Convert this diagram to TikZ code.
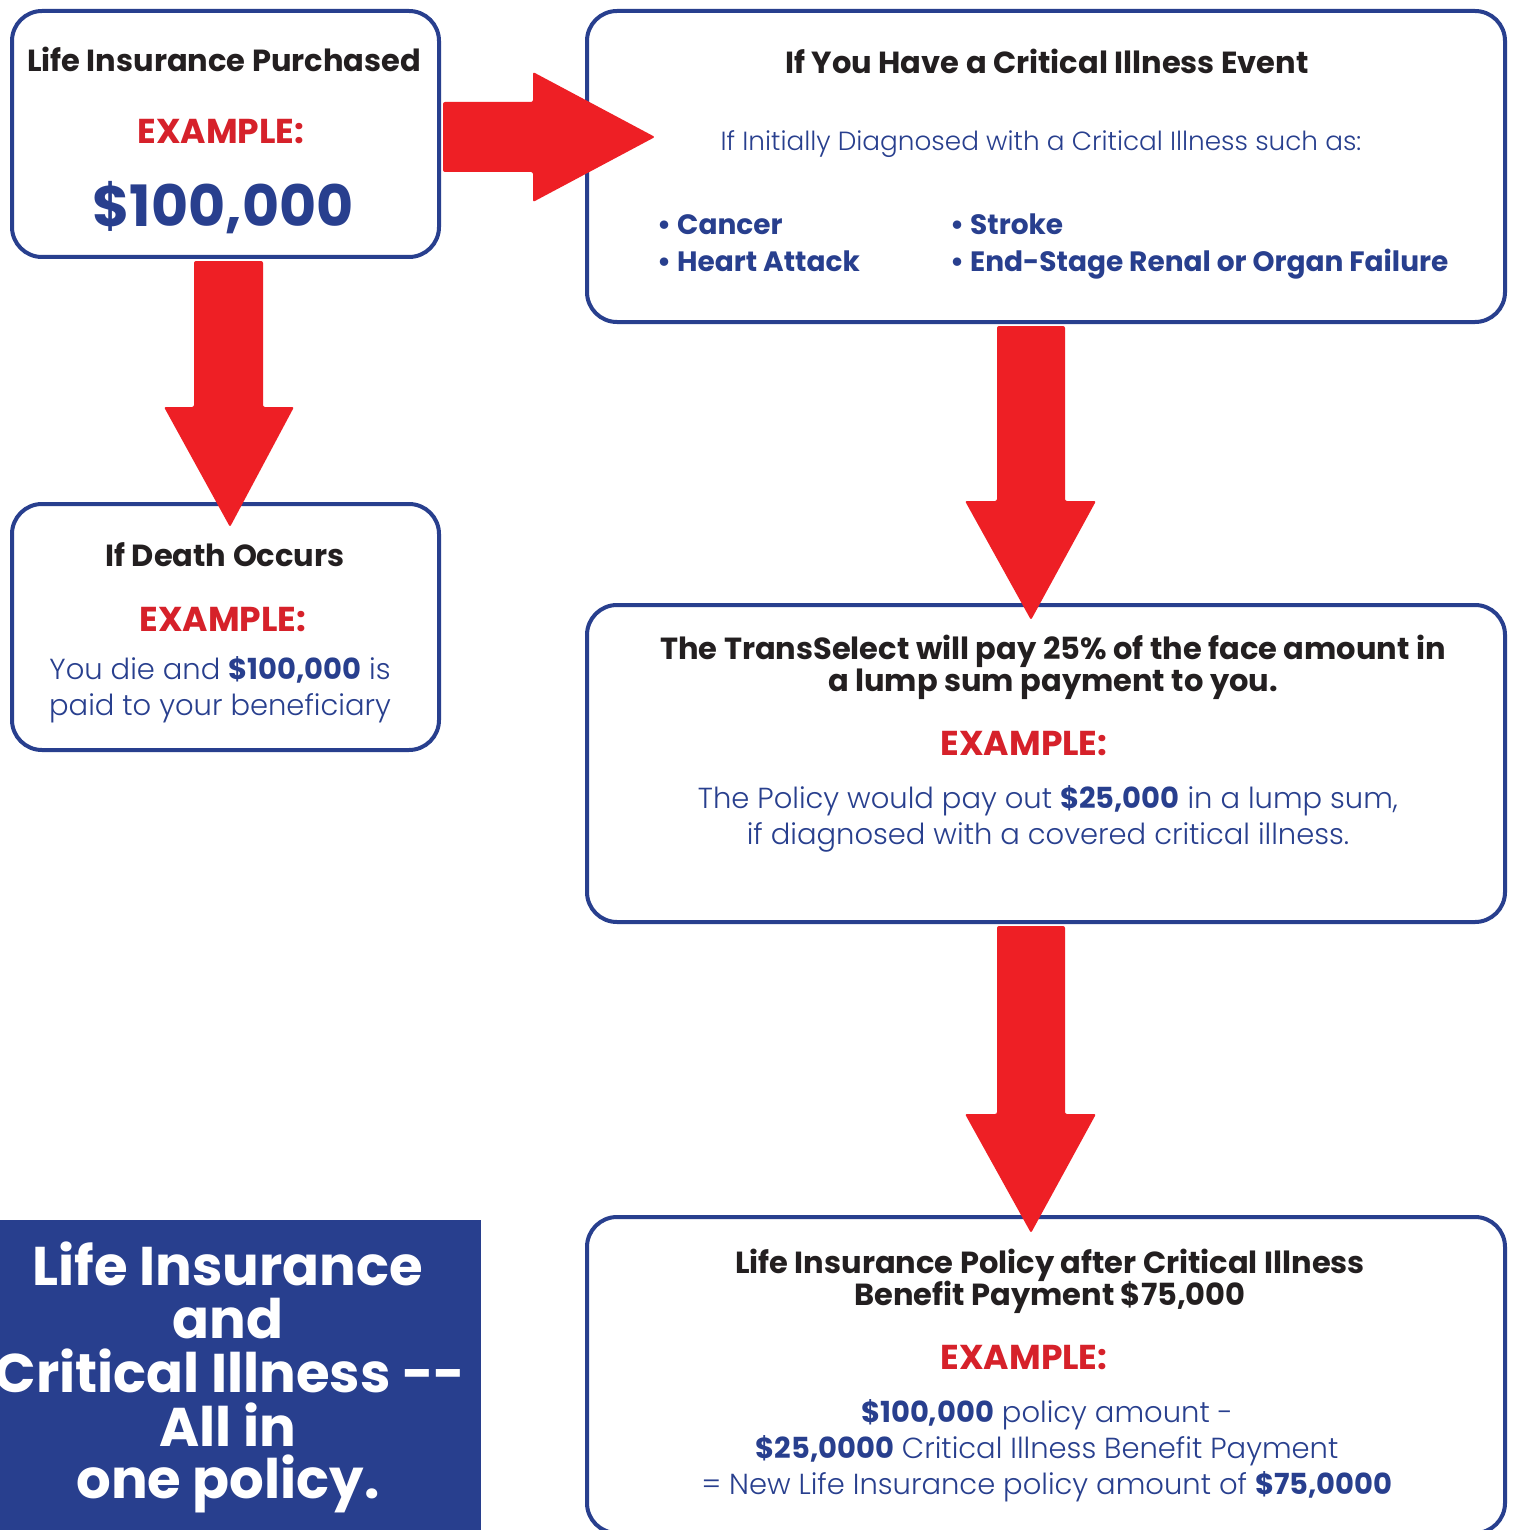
\documentclass[tikz,border=0pt]{standalone}
\usepackage{fontspec}
\setmainfont{Poppins}
\IfFontExistsTF{Poppins Light}{\newfontfamily\lightf{Poppins Light}[BoldFont={Poppins Bold}]}{\newfontfamily\lightf{Poppins}}
\usetikzlibrary{calc}
\definecolor{cblue}{HTML}{283F8E}
\definecolor{cred}{HTML}{EE1F25}
\definecolor{tred}{HTML}{D6212A}
\definecolor{tblack}{HTML}{231F20}
\begin{document}
\begin{tikzpicture}[x=1pt,y=-1pt,
  box/.style={draw=cblue,line width=4pt,rounded corners=30pt,fill=white,inner sep=0pt,anchor=north west},
  lbl/.style={anchor=base,inner sep=0pt},
  head/.style={lbl,text=tblack,font=\bfseries\fontsize{30.5}{34}\selectfont},
  ex/.style={lbl,text=tred,font=\bfseries\fontsize{34.5}{38}\selectfont},
  body/.style={lbl,text=cblue,font=\lightf\fontsize{29}{33}\selectfont},
  bul/.style={anchor=base west,inner sep=0pt,text=cblue,font=\bfseries\fontsize{28}{32}\selectfont},
  fat/.style={fill=cred,rounded corners=2pt},
  bantxt/.style={lbl,text=white,font=\bfseries\fontsize{54.5}{54}\selectfont}]
\useasboundingbox (0,0) rectangle (1514,1530);
\fill[white] (0,0) rectangle (1514,1530);

% boxes
\node[box,minimum width=427pt,minimum height=246pt] (A) at (10,9) {};
\node[box,minimum width=918pt,minimum height=311pt] (B) at (585,9) {};
\node[box,minimum width=427pt,minimum height=246pt] (C) at (10,502) {};
\node[box,minimum width=918pt,minimum height=317pt] (D) at (585,603) {};
\node[box,minimum width=918pt,minimum height=316pt] (E) at (585,1215) {};
\node[fill=cblue,inner sep=0pt,anchor=north west,minimum width=481pt,minimum height=312pt] (F) at (0,1220) {};

% arrows
\fill[fat] ($(A.east)+(2,-32)$) -- ++(90,0) -- ++(0,-30) -- ($(B.west)+(70,-29.5)$) -- ($(A.east)+(92,68)$) -- ++(0,-30) -- ++(-90,0) -- cycle;
\fill[fat] ($(A.south)+(-31.5,2)$) -- ++(0,146) -- ++(-30,0) -- ($(C.north)+(4.5,25)$) -- ($(A.south)+(68.5,148)$) -- ++(-31,0) -- ++(0,-146) -- cycle;
\fill[fat] ($(B.south)+(-49,2)$) -- ++(0,175) -- ++(-32,0) -- ($(D.north)+(-15,17)$) -- ($(B.south)+(50,177)$) -- ++(-31,0) -- ++(0,-175) -- cycle;
\fill[fat] ($(D.south)+(-49,2)$) -- ++(0,188) -- ++(-32,0) -- ($(E.north)+(-15,18)$) -- ($(D.south)+(50,190)$) -- ++(-31,0) -- ++(0,-188) -- cycle;

% box A
\node[head] (a1) at (224,72) {Life Insurance Purchased};
\node[ex] (a2) at (221,144) {EXAMPLE:};
\node[lbl,text=cblue,font=\bfseries\fontsize{57}{62}\selectfont] (a3) at (223,227) {\$100,000};

% box B
\node[head] (b1) at (1047,74) {If You Have a Critical Illness Event};
\node[body,font=\lightf\fontsize{26.3}{30}\selectfont] (b2) at (1041,151) {If Initially Diagnosed with a Critical Illness such as:};
\node[bul] (b3) at (657,235) {• Cancer};
\node[bul] (b4) at (657,271) {• Heart Attack};
\node[bul] (b5) at (950,235) {• Stroke};
\node[bul] (b6) at (950,271) {• End-Stage Renal or Organ Failure};

% box C
\node[head] (c1) at (225,566) {If Death Occurs};
\node[ex] (c2) at (223,631) {EXAMPLE:};
\node[body] (c3) at (220,679) {You die and \textbf{\$100,000} is};
\node[body] (c4) at (220,715) {paid to your beneficiary};

% box D
\node[head] (d1) at (1053,659) {The TransSelect will pay 25\% of the face amount in};
\node[head] (d2) at (1053,691) {a lump sum payment to you.};
\node[ex] (d3) at (1024,755) {EXAMPLE:};
\node[body] (d4) at (1048,808) {The Policy would pay out \textbf{\$25,000} in a lump sum,};
\node[body] (d5) at (1048,844) {if diagnosed with a covered critical illness.};

% box E
\node[head] (e1) at (1050,1273) {Life Insurance Policy after Critical Illness};
\node[head] (e2) at (1050,1305) {Benefit Payment \$75,000};
\node[ex] (e3) at (1024,1369) {EXAMPLE:};
\node[body] (e4) at (1047,1422) {\textbf{\$100,000} policy amount -};
\node[body] (e5) at (1047,1458) {\textbf{\$25,0000} Critical Illness Benefit Payment};
\node[body] (e6) at (1047,1494) {= New Life Insurance policy amount of \textbf{\$75,0000}};

% banner
\node[bantxt] (f1) at (228,1285) {Life Insurance};
\node[bantxt] (f2) at (228,1338) {and};
\node[bantxt] (f3) at (230,1392) {Critical Illness -{}-};
\node[bantxt] (f4) at (228,1446) {All in};
\node[bantxt] (f5) at (228,1498) {one policy.};
\end{tikzpicture}
\end{document}
